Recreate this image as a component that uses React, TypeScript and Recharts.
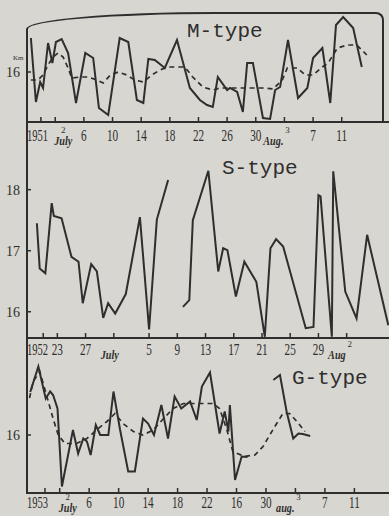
import React from 'react';
import { LineChart, Line, XAxis, YAxis } from 'recharts';

// M-type, 1951 (days counted from July 0)
const M_SOLID_DAYS = [-1.4, -0.7, -0.1, 0.3, 1.0, 1.6, 2.1, 2.9, 3.8, 4.9, 6.2, 7.3, 8.1, 9.4, 11.0, 12.2, 13.4, 14.3, 15.0, 15.9, 17.3, 19.0, 20.8, 22.2, 23.2, 24.0, 24.7, 26.0, 26.4, 27.4, 28.2, 28.8, 29.6, 31.0, 32.0, 32.7, 33.4, 34.5, 35.9, 37.2, 38.0, 39.3, 40.4, 41.2, 42.2, 43.6, 44.8];
const M_SOLID_KM = [16.68, 15.4, 15.8, 15.68, 16.58, 16.18, 16.6, 16.66, 16.38, 15.38, 16.38, 16.28, 15.28, 15.14, 16.68, 16.6, 15.44, 15.38, 16.26, 16.24, 16.08, 16.64, 15.68, 15.44, 15.34, 15.3, 15.9, 15.64, 15.68, 15.6, 15.2, 16.18, 16.18, 15.08, 15.06, 15.64, 15.7, 16.64, 15.48, 15.68, 16.28, 16.48, 15.38, 16.94, 17.1, 16.88, 16.1];
const M_MEAN_DAYS = [-1.4, -0.4, 0.3, 1.0, 1.7, 2.4, 3.1, 3.8, 4.3, 5.5, 6.6, 7.8, 8.7, 9.7, 10.8, 12.0, 13.1, 14.3, 15.5, 16.6, 17.8, 19.0, 20.1, 21.2, 22.6, 24.0, 25.0, 26.4, 27.8, 29.6, 31.0, 32.4, 33.7, 34.4, 35.8, 36.9, 38.0, 39.3, 40.1, 41.4, 42.8, 44.1, 45.5];
const M_MEAN_KM = [15.84, 15.84, 15.94, 16.14, 16.3, 16.38, 16.3, 16.08, 15.88, 15.9, 15.9, 15.84, 15.78, 15.94, 16.0, 15.94, 15.84, 15.8, 15.94, 16.04, 16.1, 16.1, 16.1, 15.9, 15.7, 15.64, 15.68, 15.68, 15.68, 15.68, 15.68, 15.66, 15.84, 16.08, 16.08, 15.94, 15.94, 16.1, 16.18, 16.48, 16.54, 16.54, 16.34];
const M_TICKS = [0, 2, 6, 10, 14, 18, 22, 26, 30, 34, 38, 42];
const M_LABELS = ['1951', 'July 2', '6', '10', '14', '18', '22', '26', '30', 'Aug. 3', '7', '11'];

// S-type, 1952 (null = gap in the record)
const S_DAYS = [-10.9, -10.5, -9.7, -8.8, -8.5, -7.4, -6.0, -5.0, -4.4, -3.2, -2.4, -1.5, -0.8, 0.2, 1.7, 3.7, 5.0, 6.1, 7.7, 8.8, 9.8, 10.7, 11.2, 13.4, 14.8, 15.5, 16.1, 17.3, 18.5, 20.2, 21.4, 22.2, 23.0, 24.0, 27.2, 28.3, 29.0, 29.3, 30.9, 31.1, 32.8, 34.4, 35.9, 38.9];
const S_KM = [17.45, 16.71, 16.63, 17.78, 17.57, 17.53, 16.9, 16.82, 16.14, 16.78, 16.66, 15.9, 16.14, 15.97, 16.29, 17.55, 15.71, 17.51, 18.16, null, 16.08, 16.19, 17.5, 18.31, 16.66, 17.04, 17.01, 16.25, 16.82, 16.49, 15.59, 17.04, 17.19, 17.07, 15.73, 15.75, 17.91, 17.89, 15.59, 18.3, 16.33, 15.89, 17.26, 15.78];
const S_TICKS = [-10, -8, -4, 0, 5, 9, 13, 17, 21, 25, 29, 33];
const S_LABELS = ['1952', '23', '27', 'July', '5', '9', '13', '17', '21', '25', '29', 'Aug 2'];

// G-type, 1953
const G_SOLID_DAYS = [-2.0, -0.9, 0.1, 0.7, 1.1, 1.7, 2.3, 3.8, 4.5, 5.2, 5.7, 6.2, 6.9, 7.5, 8.6, 9.3, 10.2, 11.3, 12.2, 13.3, 14.0, 14.8, 15.8, 16.7, 17.6, 18.5, 19.7, 20.6, 21.3, 22.4, 23.7, 24.4, 24.9, 25.1, 25.8, 26.7, 27.5, 29.0, 31.0, 31.9, 32.8, 33.7, 34.4, 35.0, 36.0];
const G_SOLID_KM = [16.86, 17.37, 16.73, 16.87, 16.8, 16.53, 14.97, 16.1, 15.63, 15.93, 15.87, 15.6, 16.2, 16.0, 16.0, 16.87, 16.1, 15.27, 15.27, 16.33, 16.23, 16.0, 16.6, 15.93, 16.77, 16.53, 16.67, 16.3, 16.97, 17.25, 16.03, 16.47, 16.07, 16.6, 15.1, 15.57, 15.56, null, 17.1, 17.2, 16.47, 15.93, 16.03, 16.02, 15.98];
const G_MEAN_DAYS = [-2.1, -1.6, -0.7, 0.2, 1.1, 1.8, 2.7, 4.3, 5.7, 7.0, 8.4, 9.5, 10.6, 12.0, 13.3, 14.7, 16.1, 17.4, 18.8, 20.6, 22.8, 23.7, 24.7, 25.5, 27.1, 28.5, 29.6, 31.2, 32.3, 33.2, 34.2, 35.3];
const G_MEAN_KM = [16.74, 17.07, 17.27, 16.8, 16.33, 16.0, 15.83, 15.83, 15.93, 16.1, 16.27, 16.43, 16.23, 16.07, 16.0, 16.1, 16.33, 16.53, 16.63, 16.63, 16.63, 16.53, 16.1, 15.67, 15.57, 15.6, 15.77, 16.17, 16.43, 16.43, 16.27, 16.07];
const G_TICKS = [0, 2, 6, 10, 14, 18, 22, 26, 30, 34, 38, 42];
const G_LABELS = ['1953', 'July 2', '6', '10', '14', '18', '22', '16', '30', 'aug. 3', '7', '11'];

const PAPER = '#d8d6d0';
const INK = '#2e2e2e';
const SERIF = '"Liberation Serif", "DejaVu Serif", serif';
const MONO = '"Liberation Mono", "DejaVu Sans Mono", monospace';

const zip = (days: number[], km: (number | null)[]) => days.map((day, i) => ({ day, km: km[i] }));

// narrow text, squeezed horizontally like the typeset originals
const Narrow = ({
  x,
  y,
  children,
  anchor,
  size = 16,
  squeeze = 0.7,
  italic = false,
}: {
  x: number;
  y: number;
  children: React.ReactNode;
  anchor: 'start' | 'middle' | 'end';
  size?: number;
  squeeze?: number;
  italic?: boolean;
}) => (
  <text
    transform={`translate(${x},${y}) scale(${squeeze},1)`}
    textAnchor={anchor}
    fontSize={size}
    fontStyle={italic ? 'italic' : 'normal'}
    fontWeight={italic ? 'bold' : 'normal'}
    fontFamily={SERIF}
    fill={INK}
  >
    {children}
  </text>
);

const makeTick = (ticks: number[], labels: string[], dy: number) => (props: any) => {
  const { x, y, payload } = props;
  const label = labels[ticks.indexOf(payload.value)] ?? '';
  const base = y + dy;
  let text: React.ReactNode = null;
  if (/^\d{4}$/.test(label)) {
    text = <Narrow x={27} y={base} anchor="start" squeeze={0.66}>{label}</Narrow>;
  } else if (/^[A-Za-z]/.test(label)) {
    const [month, sup] = label.split(' ');
    const isJuly = month.startsWith('J');
    const mx = isJuly ? (sup ? x + 8 : x - 4) : x - 1;
    text = (
      <>
        <Narrow x={mx} y={base + 4} anchor={isJuly ? 'middle' : 'end'} size={12} squeeze={0.85} italic>
          {month}
        </Narrow>
        {sup && (
          <Narrow x={isJuly ? x + 8 : x + 3} y={base - 8} anchor="middle" size={9} squeeze={1}>
            {sup}
          </Narrow>
        )}
      </>
    );
  } else {
    text = <Narrow x={x} y={base} anchor="middle">{label}</Narrow>;
  }
  return (
    <g>
      <line x1={x} x2={x} y1={y} y2={y - 5} stroke={INK} strokeWidth={1.5} />
      {text}
    </g>
  );
};

type Series = { data: { day: number; km: number | null }[]; dashed?: boolean };

type PanelProps = {
  top: number;
  height: number;
  marginTop: number;
  axisHeight: number;
  xDomain: [number, number];
  yDomain: [number, number];
  yTicks: number[];
  xTicks: number[];
  xLabels: string[];
  labelDy: number;
  series: Series[];
};

const Panel: React.FC<PanelProps> = ({ top, height, marginTop, axisHeight, xDomain, yDomain, yTicks, xTicks, xLabels, labelDy, series }) => (
  <div style={{ position: 'absolute', left: 0, top }}>
    <LineChart width={389} height={height} margin={{ top: marginTop, right: 0, bottom: 0, left: 0 }}>
      <XAxis
        type="number"
        dataKey="day"
        domain={xDomain}
        ticks={xTicks}
        allowDataOverflow
        height={axisHeight}
        tickSize={0}
        tickMargin={0}
        axisLine={{ stroke: INK, strokeWidth: 2 }}
        tickLine={false}
        tick={makeTick(xTicks, xLabels, labelDy)}
        interval={0}
      />
      <YAxis
        type="number"
        domain={yDomain}
        ticks={yTicks}
        allowDataOverflow
        width={27}
        axisLine={false}
        tickSize={5}
        tickLine={{ stroke: INK, strokeWidth: 1.5, transform: 'translate(4,0)' }}
        tick={{ fontSize: 14, fontFamily: SERIF, fill: INK }}
      />
      {series.map((s, i) => (
        <Line
          key={i}
          data={s.data}
          dataKey="km"
          type="linear"
          stroke={INK}
          strokeWidth={s.dashed ? 1.7 : 2}
          strokeDasharray={s.dashed ? '5 4' : undefined}
          dot={false}
          activeDot={false}
          isAnimationActive={false}
        />
      ))}
    </LineChart>
  </div>
);

const titleStyle: React.CSSProperties = {
  position: 'absolute',
  fontFamily: MONO,
  fontSize: 21,
  color: INK,
  lineHeight: 1,
};

export default function App() {
  return (
    <div style={{ position: 'absolute', left: 0, top: 0, width: 389, height: 516, background: PAPER, overflow: 'hidden' }}>
      <Panel
        top={0}
        height={160}
        marginTop={15}
        axisHeight={38}
        xDomain={[-1.94, 48.6]}
        yDomain={[15.0, 17.14]}
        yTicks={[16]}
        xTicks={M_TICKS}
        xLabels={M_LABELS}
        labelDy={19}
        series={[{ data: zip(M_SOLID_DAYS, M_SOLID_KM) }, { data: zip(M_MEAN_DAYS, M_MEAN_KM), dashed: true }]}
      />
      <Panel
        top={140}
        height={235}
        marginTop={10}
        axisHeight={37}
        xDomain={[-12.3, 39.0]}
        yDomain={[15.57, 18.65]}
        yTicks={[16, 17, 18]}
        xTicks={S_TICKS}
        xLabels={S_LABELS}
        labelDy={17}
        series={[{ data: zip(S_DAYS, S_KM) }]}
      />
      <Panel
        top={355}
        height={161}
        marginTop={7}
        axisHeight={23}
        xDomain={[-2.44, 46.7]}
        yDomain={[14.84, 17.46]}
        yTicks={[16]}
        xTicks={G_TICKS}
        xLabels={G_LABELS}
        labelDy={15}
        series={[{ data: zip(G_SOLID_DAYS, G_SOLID_KM) }, { data: zip(G_MEAN_DAYS, G_MEAN_KM), dashed: true }]}
      />
      {/* frame of the top panel and the shared left axis */}
      <div
        style={{
          position: 'absolute',
          left: 26,
          top: 12,
          width: 358,
          height: 111,
          boxSizing: 'border-box',
          borderTop: `2px solid ${INK}`,
          borderRight: `2px solid ${INK}`,
          borderLeft: `2px solid ${INK}`,
          borderTopLeftRadius: '190px 17px',
          borderTopRightRadius: 8,
        }}
      />
      <div style={{ position: 'absolute', left: 26, top: 122, width: 2, height: 372, background: INK }} />
      <div style={{ position: 'absolute', left: 13, top: 54, fontFamily: SERIF, fontSize: 7, color: INK }}>Km</div>
      <div style={{ ...titleStyle, left: 187, top: 21 }}>M-type</div>
      <div style={{ ...titleStyle, left: 222, top: 158 }}>S-type</div>
      <div style={{ ...titleStyle, left: 292, top: 368 }}>G-type</div>
    </div>
  );
}
